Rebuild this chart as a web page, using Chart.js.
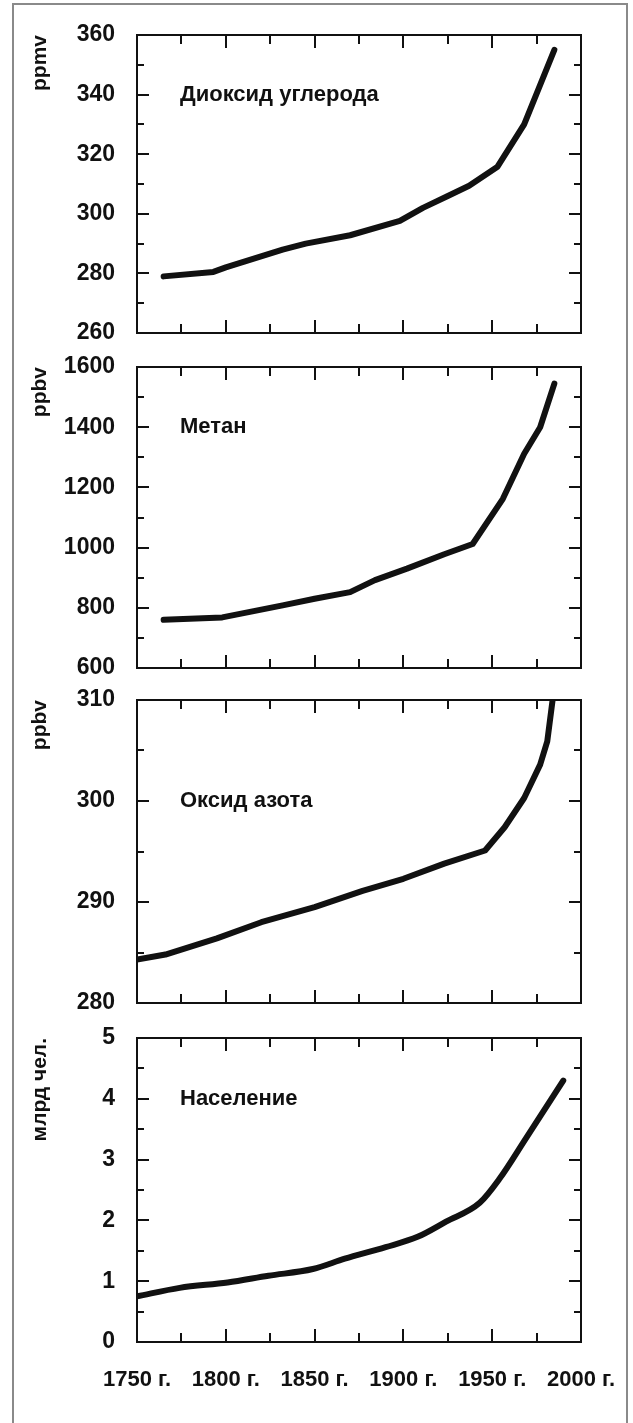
<!DOCTYPE html>
<html><head><meta charset="utf-8">
<script src="https://cdn.jsdelivr.net/npm/chart.js@4/dist/chart.umd.min.js"></script>
<style>
html,body{margin:0;padding:0;background:#fff;}
body{width:633px;height:1423px;position:relative;overflow:hidden;}
#frame{position:absolute;left:12px;top:3px;width:612px;height:1440px;border:2px solid #8a8a8a;border-bottom:none;}
.panel{position:absolute;left:0;width:633px;}
canvas{display:block;}
</style></head><body>
<div id="frame"></div>
<div class="panel" style="top:5px"><canvas id="c1" width="633" height="358"></canvas></div>
<div class="panel" style="top:337px"><canvas id="c2" width="633" height="361"></canvas></div>
<div class="panel" style="top:670px"><canvas id="c3" width="633" height="363"></canvas></div>
<div class="panel" style="top:1008px"><canvas id="c4" width="633" height="404"></canvas></div>
<script>
// ---- data ----
const yearTicks = [1750, 1800, 1850, 1900, 1950, 2000];

const co2Years  = [1765, 1793, 1800, 1832, 1845, 1870, 1898, 1911, 1925, 1937, 1953, 1968, 1985];
const co2Values = [279, 280.5, 282, 288, 290, 292.8, 297.6, 302, 306, 309.4, 315.8, 330, 355];
const co2Ticks  = [260, 280, 300, 320, 340, 360];

const ch4Years  = [1765, 1798, 1832, 1850, 1870, 1884, 1902, 1923, 1939, 1956, 1968, 1977, 1985];
const ch4Values = [760, 768, 808, 830, 852, 892, 930, 978, 1012, 1162, 1312, 1400, 1545];
const ch4Ticks  = [600, 800, 1000, 1200, 1400, 1600];

const n2oYears  = [1750, 1766, 1795, 1820, 1850, 1877, 1900, 1923, 1946, 1957, 1968, 1977, 1981, 1984];
const n2oValues = [284.3, 284.8, 286.4, 288.0, 289.5, 291.1, 292.3, 293.8, 295.1, 297.4, 300.3, 303.6, 305.9, 310];
const n2oTicks  = [280, 290, 300, 310];

const popYears  = [1750, 1774, 1801, 1824, 1849, 1867, 1890, 1908, 1924, 1943, 1954, 1969, 1990];
const popValues = [0.75, 0.89, 0.98, 1.09, 1.2, 1.37, 1.56, 1.73, 1.98, 2.29, 2.68, 3.35, 4.3];
const popTicks  = [0, 1, 2, 3, 4, 5];

// ---- style ----
const FONT = '"Liberation Sans", Arial, Helvetica, sans-serif';
const INK = '#111';

function minorsOf(t){ const m=[]; for(let i=0;i<t.length-1;i++) m.push((t[i]+t[i+1])/2); return m; }

const framePlugin = {
  id: 'frame',
  afterDraw(chart, args, o){
    const {ctx, chartArea:a, scales:{x, y}} = chart;
    ctx.save();
    ctx.strokeStyle = INK; ctx.lineWidth = 2; ctx.lineCap = 'butt';
    ctx.strokeRect(a.left, a.top, a.right - a.left, a.bottom - a.top);
    ctx.beginPath();
    const xs = [[yearTicks.slice(1,-1), 13], [minorsOf(yearTicks), 9]];
    xs.forEach(([vals, len]) => vals.forEach(v => {
      const p = Math.round(x.getPixelForValue(v));
      ctx.moveTo(p, a.bottom); ctx.lineTo(p, a.bottom - len);
      ctx.moveTo(p, a.top); ctx.lineTo(p, a.top + len);
    }));
    const ys = [[o.ticks.slice(1,-1), 12], [minorsOf(o.ticks), 7]];
    ys.forEach(([vals, len]) => vals.forEach(v => {
      const p = Math.round(y.getPixelForValue(v));
      ctx.moveTo(a.left, p); ctx.lineTo(a.left + len, p);
      ctx.moveTo(a.right, p); ctx.lineTo(a.right - len, p);
    }));
    ctx.stroke();
    ctx.fillStyle = INK;
    ctx.font = 'bold 22px ' + FONT;
    ctx.textBaseline = 'middle'; ctx.textAlign = 'left';
    ctx.fillText(o.title, a.left + 43, y.getPixelForValue(o.at));
    ctx.restore();
  }
};

function makePanel(id, years, values, ticks, title, at, unit, showX, smooth){
  const tickFont = {family: FONT, size: 23, weight: 'bold'};
  const xScale = {
    type: 'linear', min: yearTicks[0], max: yearTicks[yearTicks.length-1], display: showX,
    afterBuildTicks: s => { s.ticks = yearTicks.map(v => ({value: v})); },
    grid: {display: false}, border: {display: false},
    ticks: {padding: 17, maxRotation: 0, autoSkip: false, color: INK,
            font: {family: FONT, size: 22, weight: 'bold'},
            callback: v => v + ' г.'}
  };
  if (showX) xScale.afterFit = s => { s.height = 50; };
  new Chart(document.getElementById(id), {
    type: 'line',
    data: { datasets: [{
      data: years.map((x, i) => ({x, y: values[i]})),
      borderColor: INK, borderWidth: 6, pointRadius: 0,
      tension: 0, cubicInterpolationMode: smooth ? 'monotone' : 'default',
      borderCapStyle: 'round', borderJoinStyle: 'round', fill: false
    }]},
    options: {
      responsive: false, animation: false, events: [],
      layout: {padding: {left: 28, right: 52, top: 30, bottom: showX ? 20 : 30}},
      plugins: {legend: {display: false}, tooltip: {enabled: false},
                frame: {ticks, title, at}},
      scales: {
        x: xScale,
        y: {
          type: 'linear', min: ticks[0], max: ticks[ticks.length-1],
          afterBuildTicks: s => { s.ticks = ticks.map(v => ({value: v})); },
          afterFit: s => { s.width = 109; },
          grid: {display: false}, border: {display: false},
          ticks: {padding: 14, color: INK, font: tickFont, callback: v => String(v)},
          title: {display: true, text: unit, align: 'end', color: INK,
                  font: {family: FONT, size: 21, weight: 'bold'}, padding: {top: 0, bottom: 6}}
        }
      }
    },
    plugins: [framePlugin]
  });
}

makePanel('c1', co2Years, co2Values, co2Ticks, 'Диоксид углерода', 340, 'ppmv', false, false);
makePanel('c2', ch4Years, ch4Values, ch4Ticks, 'Метан', 1400, 'ppbv', false, false);
makePanel('c3', n2oYears, n2oValues, n2oTicks, 'Оксид азота', 300, 'ppbv', false, false);
makePanel('c4', popYears, popValues, popTicks, 'Население', 4, 'млрд чел.', true, true);
</script>
</body></html>
